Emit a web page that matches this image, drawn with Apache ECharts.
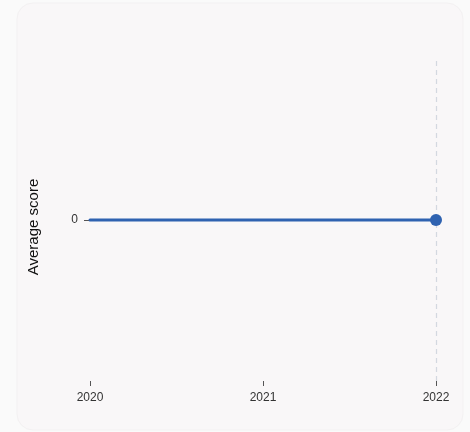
<!DOCTYPE html>
<html><head><meta charset="utf-8">
<script src="https://cdn.jsdelivr.net/npm/echarts@6/dist/echarts.min.js"></script>
<style>html,body{margin:0;padding:0;background:#fafafa;}#c{width:470px;height:432px;}</style>
</head><body><div id="c"></div>
<script>
const years = ['2020', '2021', '2022'];
const avgScore = [0, 0, 0];
const yTicks = [0];
const chart = echarts.init(document.getElementById('c'), null, {renderer: 'canvas'});
chart.setOption({
  backgroundColor: '#fafafa',
  animation: false,
  graphic: [{
    type: 'rect', z: -10, silent: true,
    shape: {x: 17, y: 3, width: 446, height: 427, r: 16},
    style: {fill: '#f9f7f8', stroke: '#f3f1f2', lineWidth: 1}
  }],
  grid: {left: 90, right: 34, top: 59, bottom: 51},
  xAxis: {
    type: 'category', data: years, boundaryGap: false,
    axisLine: {show: false, onZero: false},
    axisTick: {show: true, alignWithLabel: true, length: 5, lineStyle: {color: '#555', width: 1}},
    axisLabel: {color: '#333', fontSize: 12, margin: 11, fontFamily: 'Liberation Sans, Arial, sans-serif'},
    splitLine: {show: false}
  },
  yAxis: {
    type: 'value', min: -1, max: 1, interval: 1,
    name: 'Average score', nameLocation: 'middle', nameGap: 49, nameRotate: 90,
    nameTextStyle: {color: '#111', fontSize: 15, fontFamily: 'Liberation Sans, Arial, sans-serif', padding: [0, 14, 0, 0]},
    axisLine: {show: false},
    axisTick: {show: true, length: 6, customValues: yTicks, lineStyle: {color: '#555'}},
    axisLabel: {color: '#333', fontSize: 12, margin: 12, customValues: yTicks, fontFamily: 'Liberation Sans, Arial, sans-serif'},
    splitLine: {show: false}
  },
  series: [{
    type: 'line', data: avgScore, z: 5,
    lineStyle: {color: '#2f62b0', width: 3, cap: 'round'},
    itemStyle: {color: '#2f62b0'},
    symbol: 'circle',
    symbolSize: function (v, p) { return p.dataIndex === avgScore.length - 1 ? 12 : 0; },
    showAllSymbol: true,
    markLine: {
      silent: true, symbol: 'none', label: {show: false}, z: 1,
      lineStyle: {color: '#d3d8e0', type: [5, 4], width: 1.2},
      data: [{xAxis: years[years.length - 1]}]
    }
  }]
});
</script></body></html>
